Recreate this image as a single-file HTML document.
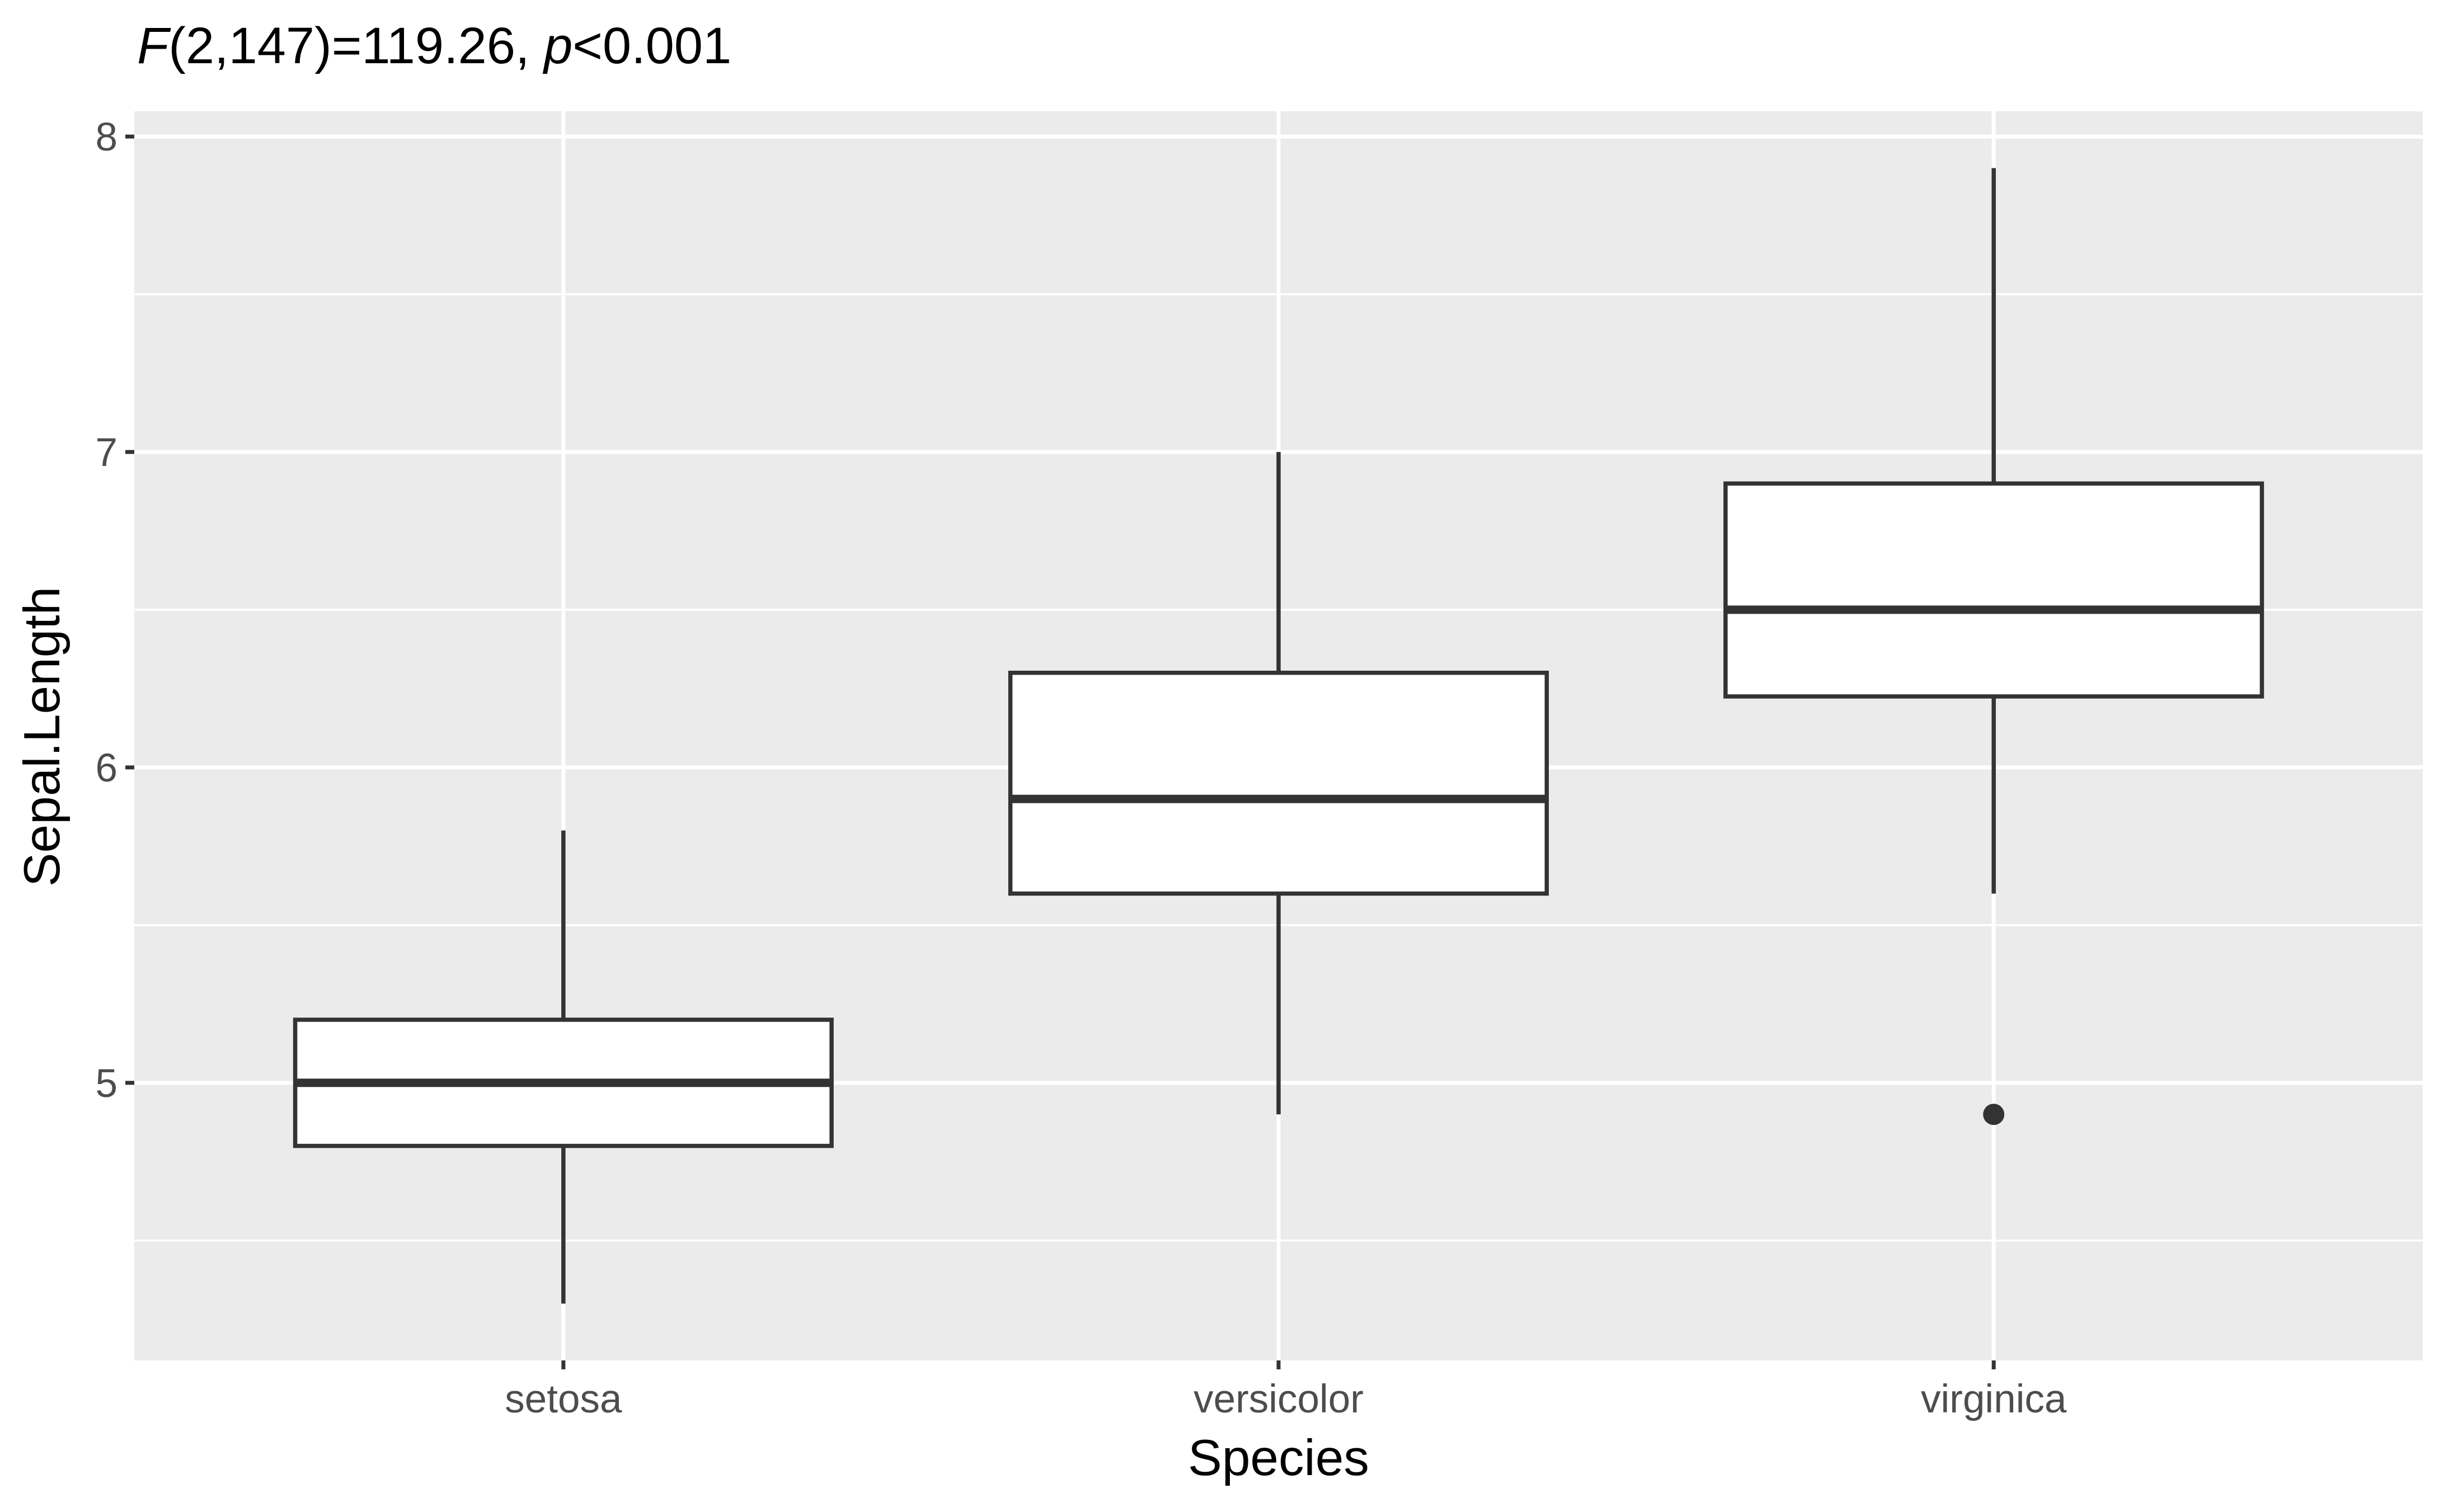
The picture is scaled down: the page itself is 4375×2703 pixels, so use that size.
<!DOCTYPE html>
<html><head><meta charset="utf-8"><style>
html,body{margin:0;padding:0;background:#fff;}
svg{display:block;font-family:"Liberation Sans",Arial,sans-serif;}
</style></head><body>
<svg id="chart" width="4375" height="2703" viewBox="0 0 4375 2703" xmlns="http://www.w3.org/2000/svg">
<rect x="0" y="0" width="4375" height="2703" fill="#fff"/>
<rect x="240" y="199" width="4090" height="2233" fill="#ebebeb"/>
<g id="grid"></g>
<g id="boxes"></g>
<g id="axes"></g>
<text x="245" y="113" font-size="92" fill="#000"><tspan font-style="italic">F</tspan>(2,147)=119.26, <tspan font-style="italic">p</tspan>&lt;0.001</text>
<text x="2285" y="2637" font-size="91" text-anchor="middle" fill="#000">Species</text>
<text transform="translate(106,1317) rotate(-90)" font-size="91" text-anchor="middle" fill="#000">Sepal.Length</text>
</svg>
<script>
const categories = ["setosa","versicolor","virginica"];
const mins = [4.3,4.9,5.6];
const q1s = [4.8,5.6,6.225];
const medians = [5.0,5.9,6.5];
const q3s = [5.2,6.3,6.9];
const maxs = [5.8,7.0,7.9];
const outlierCat = [2];
const outlierVal = [4.9];
const yTicks = [5,6,7,8];
const yMinor = [4.5,5.5,6.5,7.5];

const NS="http://www.w3.org/2000/svg";
const px0=240, px1=4330, py0=199, py1=2432;
const yLo=4.12, yHi=8.08;
function y(v){return py1-(v-yLo)/(yHi-yLo)*(py1-py0);}
function x(i){return px0+(i+1-0.4)/3.2*(px1-px0);}
const bw=0.75/3.2*(px1-px0);
function mk(p,tag,attrs){const e=document.createElementNS(NS,tag);for(const k in attrs)e.setAttribute(k,attrs[k]);p.appendChild(e);return e;}
const grid=document.getElementById('grid'), boxes=document.getElementById('boxes'), axes=document.getElementById('axes');
yMinor.forEach(v=>{const l=mk(grid,'line',{x1:px0,x2:px1,y1:y(v),y2:y(v),stroke:'#fff','stroke-width':3.5});

});
yTicks.forEach(v=>{const l=mk(grid,'line',{x1:px0,x2:px1,y1:y(v),y2:y(v),stroke:'#fff','stroke-width':7});


const t=mk(axes,'line',{x1:px0-16,x2:px0,y1:y(v),y2:y(v),stroke:'#333','stroke-width':7});


const tx=mk(axes,'text',{x:px0-30,y:y(v)+25,'font-size':71,fill:'#4d4d4d','text-anchor':'end'});tx.textContent=v;

});
categories.forEach((c,i)=>{const cx=x(i);
const g=mk(grid,'line',{x1:cx,x2:cx,y1:py0,y2:py1,stroke:'#fff','stroke-width':7});


const grp=mk(boxes,'g',{});


mk(grp,'line',{x1:cx,x2:cx,y1:y(q3s[i]),y2:y(maxs[i]),stroke:'#333','stroke-width':7.5});
mk(grp,'line',{x1:cx,x2:cx,y1:y(q1s[i]),y2:y(mins[i]),stroke:'#333','stroke-width':7.5});
mk(grp,'rect',{x:cx-bw/2,y:y(q3s[i]),width:bw,height:y(q1s[i])-y(q3s[i]),fill:'#fff',stroke:'#333','stroke-width':7.5});
mk(grp,'line',{x1:cx-bw/2,x2:cx+bw/2,y1:y(medians[i]),y2:y(medians[i]),stroke:'#333','stroke-width':15});
const t=mk(axes,'line',{x1:cx,x2:cx,y1:py1,y2:py1+16,stroke:'#333','stroke-width':7});


const tx=mk(axes,'text',{x:cx,y:2525,'font-size':71,fill:'#4d4d4d','text-anchor':'middle'});tx.textContent=c;

});
outlierCat.forEach((ci,k)=>{const o=mk(boxes,'circle',{cx:x(ci),cy:y(outlierVal[k]),r:19,fill:'#333'});

});
</script>
</body></html>
